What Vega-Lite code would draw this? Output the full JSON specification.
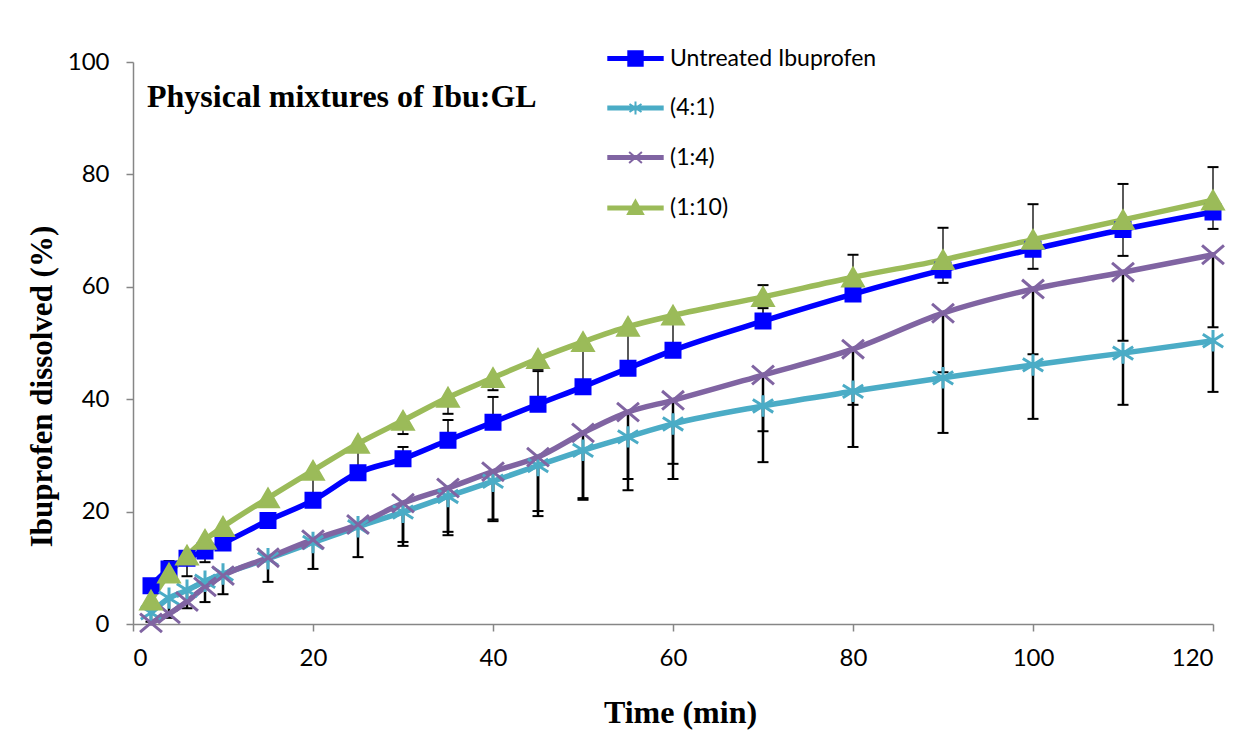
{
  "$schema": "https://vega.github.io/schema/vega-lite/v6.json",
  "width": 1080,
  "height": 562,
  "autosize": {"type": "none"},
  "padding": {"left": 133, "top": 62, "right": 40, "bottom": 121},
  "background": "white",
  "config": {"view": {"stroke": null}, "font": "Lato"},
  "title": {
    "text": "Physical mixtures of Ibu:GL",
    "anchor": "start",
    "frame": "group",
    "font": "Liberation Serif",
    "fontSize": 32,
    "fontWeight": "bold",
    "color": "black",
    "baseline": "alphabetic",
    "offset": 0,
    "dx": 14,
    "dy": 92
  },
  "datasets": {
    "series": [
      {"t": 2, "s": "Untreated Ibuprofen", "v": 6.8},
      {"t": 4, "s": "Untreated Ibuprofen", "v": 9.8},
      {"t": 6, "s": "Untreated Ibuprofen", "v": 11.7},
      {"t": 8, "s": "Untreated Ibuprofen", "v": 13.0},
      {"t": 10, "s": "Untreated Ibuprofen", "v": 14.4},
      {"t": 15, "s": "Untreated Ibuprofen", "v": 18.4},
      {"t": 20, "s": "Untreated Ibuprofen", "v": 22.0},
      {"t": 25, "s": "Untreated Ibuprofen", "v": 26.9},
      {"t": 30, "s": "Untreated Ibuprofen", "v": 29.4},
      {"t": 35, "s": "Untreated Ibuprofen", "v": 32.7},
      {"t": 40, "s": "Untreated Ibuprofen", "v": 35.9},
      {"t": 45, "s": "Untreated Ibuprofen", "v": 39.1},
      {"t": 50, "s": "Untreated Ibuprofen", "v": 42.2},
      {"t": 55, "s": "Untreated Ibuprofen", "v": 45.5},
      {"t": 60, "s": "Untreated Ibuprofen", "v": 48.7},
      {"t": 70, "s": "Untreated Ibuprofen", "v": 53.9},
      {"t": 80, "s": "Untreated Ibuprofen", "v": 58.7},
      {"t": 90, "s": "Untreated Ibuprofen", "v": 63.0},
      {"t": 100, "s": "Untreated Ibuprofen", "v": 66.7},
      {"t": 110, "s": "Untreated Ibuprofen", "v": 70.2},
      {"t": 120, "s": "Untreated Ibuprofen", "v": 73.3},
      {"t": 2, "s": "(4:1)", "v": 2.0},
      {"t": 4, "s": "(4:1)", "v": 4.6},
      {"t": 6, "s": "(4:1)", "v": 6.0},
      {"t": 8, "s": "(4:1)", "v": 7.6},
      {"t": 10, "s": "(4:1)", "v": 8.9},
      {"t": 15, "s": "(4:1)", "v": 11.6},
      {"t": 20, "s": "(4:1)", "v": 14.5},
      {"t": 25, "s": "(4:1)", "v": 17.3},
      {"t": 30, "s": "(4:1)", "v": 19.9},
      {"t": 35, "s": "(4:1)", "v": 22.7},
      {"t": 40, "s": "(4:1)", "v": 25.4},
      {"t": 45, "s": "(4:1)", "v": 28.2},
      {"t": 50, "s": "(4:1)", "v": 30.9},
      {"t": 55, "s": "(4:1)", "v": 33.3},
      {"t": 60, "s": "(4:1)", "v": 35.6},
      {"t": 70, "s": "(4:1)", "v": 38.8},
      {"t": 80, "s": "(4:1)", "v": 41.4},
      {"t": 90, "s": "(4:1)", "v": 43.8},
      {"t": 100, "s": "(4:1)", "v": 46.1},
      {"t": 110, "s": "(4:1)", "v": 48.2},
      {"t": 120, "s": "(4:1)", "v": 50.4},
      {"t": 2, "s": "(1:4)", "v": 0.2},
      {"t": 4, "s": "(1:4)", "v": 1.8},
      {"t": 6, "s": "(1:4)", "v": 4.0},
      {"t": 8, "s": "(1:4)", "v": 6.6},
      {"t": 10, "s": "(1:4)", "v": 8.6},
      {"t": 15, "s": "(1:4)", "v": 11.8},
      {"t": 20, "s": "(1:4)", "v": 15.0},
      {"t": 25, "s": "(1:4)", "v": 17.7},
      {"t": 30, "s": "(1:4)", "v": 21.5},
      {"t": 35, "s": "(1:4)", "v": 24.2},
      {"t": 40, "s": "(1:4)", "v": 27.1},
      {"t": 45, "s": "(1:4)", "v": 29.7},
      {"t": 50, "s": "(1:4)", "v": 34.0},
      {"t": 55, "s": "(1:4)", "v": 37.7},
      {"t": 60, "s": "(1:4)", "v": 39.8},
      {"t": 70, "s": "(1:4)", "v": 44.3},
      {"t": 80, "s": "(1:4)", "v": 48.9},
      {"t": 90, "s": "(1:4)", "v": 55.3},
      {"t": 100, "s": "(1:4)", "v": 59.6},
      {"t": 110, "s": "(1:4)", "v": 62.6},
      {"t": 120, "s": "(1:4)", "v": 65.7},
      {"t": 2, "s": "(1:10)", "v": 4.2},
      {"t": 4, "s": "(1:10)", "v": 9.0},
      {"t": 6, "s": "(1:10)", "v": 12.2},
      {"t": 8, "s": "(1:10)", "v": 15.0},
      {"t": 10, "s": "(1:10)", "v": 17.3},
      {"t": 15, "s": "(1:10)", "v": 22.4},
      {"t": 20, "s": "(1:10)", "v": 27.3},
      {"t": 25, "s": "(1:10)", "v": 32.1},
      {"t": 30, "s": "(1:10)", "v": 36.2},
      {"t": 35, "s": "(1:10)", "v": 40.3},
      {"t": 40, "s": "(1:10)", "v": 43.8},
      {"t": 45, "s": "(1:10)", "v": 47.2},
      {"t": 50, "s": "(1:10)", "v": 50.2},
      {"t": 55, "s": "(1:10)", "v": 52.9},
      {"t": 60, "s": "(1:10)", "v": 54.9},
      {"t": 70, "s": "(1:10)", "v": 58.2},
      {"t": 80, "s": "(1:10)", "v": 61.7},
      {"t": 90, "s": "(1:10)", "v": 64.8},
      {"t": 100, "s": "(1:10)", "v": 68.4},
      {"t": 110, "s": "(1:10)", "v": 71.9},
      {"t": 120, "s": "(1:10)", "v": 75.4}
    ],
    "err": [
      {"t": 2, "s": "(4:1)", "v": 2.0, "e": 0.4},
      {"t": 4, "s": "(4:1)", "v": 4.6, "e": 1.1},
      {"t": 4, "s": "Untreated Ibuprofen", "v": 9.8, "e": 11.2},
      {"t": 6, "s": "(4:1)", "v": 6.0, "e": 2.8},
      {"t": 6, "s": "Untreated Ibuprofen", "v": 11.7, "e": 8.5},
      {"t": 8, "s": "(4:1)", "v": 7.6, "e": 3.9},
      {"t": 8, "s": "Untreated Ibuprofen", "v": 13.0, "e": 11.0},
      {"t": 10, "s": "(4:1)", "v": 8.9, "e": 5.3},
      {"t": 15, "s": "(4:1)", "v": 11.6, "e": 7.5},
      {"t": 20, "s": "(4:1)", "v": 14.5, "e": 9.8},
      {"t": 20, "s": "(1:10)", "v": 27.3, "e": 22.5},
      {"t": 25, "s": "(4:1)", "v": 17.3, "e": 11.9},
      {"t": 25, "s": "(1:10)", "v": 32.1, "e": 27.5},
      {"t": 30, "s": "(4:1)", "v": 19.9, "e": 13.9},
      {"t": 30, "s": "(1:4)", "v": 21.5, "e": 14.6},
      {"t": 30, "s": "(1:10)", "v": 36.2, "e": 33.8},
      {"t": 30, "s": "Untreated Ibuprofen", "v": 29.4, "e": 31.5},
      {"t": 35, "s": "(4:1)", "v": 22.7, "e": 15.8},
      {"t": 35, "s": "(1:4)", "v": 24.2, "e": 16.4},
      {"t": 35, "s": "(1:10)", "v": 40.3, "e": 37.4},
      {"t": 35, "s": "Untreated Ibuprofen", "v": 32.7, "e": 36.3},
      {"t": 40, "s": "(4:1)", "v": 25.4, "e": 18.3},
      {"t": 40, "s": "(1:4)", "v": 27.1, "e": 18.6},
      {"t": 40, "s": "(1:10)", "v": 43.8, "e": 41.6},
      {"t": 40, "s": "Untreated Ibuprofen", "v": 35.9, "e": 40.4},
      {"t": 45, "s": "(4:1)", "v": 28.2, "e": 19.2},
      {"t": 45, "s": "(1:4)", "v": 29.7, "e": 20.1},
      {"t": 45, "s": "(1:10)", "v": 47.2, "e": 45.4},
      {"t": 45, "s": "Untreated Ibuprofen", "v": 39.1, "e": 45.0},
      {"t": 50, "s": "(4:1)", "v": 30.9, "e": 22.1},
      {"t": 50, "s": "(1:4)", "v": 34.0, "e": 22.4},
      {"t": 50, "s": "(1:10)", "v": 50.2, "e": 43.0},
      {"t": 55, "s": "(4:1)", "v": 33.3, "e": 23.8},
      {"t": 55, "s": "(1:4)", "v": 37.7, "e": 25.8},
      {"t": 55, "s": "(1:10)", "v": 52.9, "e": 46.0},
      {"t": 60, "s": "(4:1)", "v": 35.6, "e": 25.8},
      {"t": 60, "s": "(1:4)", "v": 39.8, "e": 28.5},
      {"t": 60, "s": "(1:10)", "v": 54.9, "e": 49.5},
      {"t": 70, "s": "(4:1)", "v": 38.8, "e": 28.8},
      {"t": 70, "s": "(1:4)", "v": 44.3, "e": 34.3},
      {"t": 70, "s": "(1:10)", "v": 58.2, "e": 60.3},
      {"t": 70, "s": "Untreated Ibuprofen", "v": 53.9, "e": 56.2},
      {"t": 80, "s": "(4:1)", "v": 41.4, "e": 31.5},
      {"t": 80, "s": "(1:4)", "v": 48.9, "e": 39.0},
      {"t": 80, "s": "(1:10)", "v": 61.7, "e": 65.7},
      {"t": 90, "s": "(4:1)", "v": 43.8, "e": 34.0},
      {"t": 90, "s": "(1:4)", "v": 55.3, "e": 44.8},
      {"t": 90, "s": "(1:10)", "v": 64.8, "e": 70.5},
      {"t": 90, "s": "(1:10)", "v": 64.8, "e": 60.7},
      {"t": 100, "s": "(4:1)", "v": 46.1, "e": 36.5},
      {"t": 100, "s": "(1:4)", "v": 59.6, "e": 48.0},
      {"t": 100, "s": "(1:10)", "v": 68.4, "e": 74.7},
      {"t": 100, "s": "(1:10)", "v": 68.4, "e": 63.2},
      {"t": 110, "s": "(4:1)", "v": 48.2, "e": 39.0},
      {"t": 110, "s": "(1:4)", "v": 62.6, "e": 50.4},
      {"t": 110, "s": "(1:10)", "v": 71.9, "e": 78.3},
      {"t": 110, "s": "(1:10)", "v": 71.9, "e": 65.5},
      {"t": 120, "s": "(4:1)", "v": 50.4, "e": 41.3},
      {"t": 120, "s": "(1:4)", "v": 65.7, "e": 52.8},
      {"t": 120, "s": "(1:10)", "v": 75.4, "e": 81.3},
      {"t": 120, "s": "(1:10)", "v": 75.4, "e": 70.3}
    ]
  },
  "encoding": {
    "x": {
      "field": "t",
      "type": "quantitative",
      "scale": {"domain": [0, 120], "nice": false},
      "axis": {
        "values": [0, 20, 40, 60, 80, 100, 120],
        "grid": false,
        "domainColor": "#868686",
        "domainWidth": 1.5,
        "tickColor": "#868686",
        "tickWidth": 1.5,
        "tickSize": 7,
        "labelFont": "Lato",
        "labelFontSize": 24,
        "labelColor": "black",
        "labelPadding": 15,
        "title": "Time (min)",
        "titleFont": "Liberation Serif",
        "titleFontWeight": "bold",
        "titleFontSize": 32,
        "titleColor": "black",
        "titleX": 547,
        "titleY": 88,
        "titleBaseline": "middle",
        "titleAlign": "center"
      }
    },
    "y": {
      "field": "v",
      "type": "quantitative",
      "scale": {"domain": [0, 100], "nice": false},
      "axis": {
        "values": [0, 20, 40, 60, 80, 100],
        "grid": false,
        "domainColor": "#868686",
        "domainWidth": 1.5,
        "tickColor": "#868686",
        "tickWidth": 1.5,
        "tickSize": 7,
        "labelFont": "Lato",
        "labelFontSize": 24,
        "labelColor": "black",
        "labelPadding": 17,
        "title": "Ibuprofen dissolved (%)",
        "titleFont": "Liberation Serif",
        "titleFontWeight": "bold",
        "titleFontSize": 31,
        "titleColor": "black",
        "titleX": -91,
        "titleY": 324,
        "titleBaseline": "middle",
        "titleAlign": "center",
        "titleAngle": -90
      }
    }
  },
  "layer": [
    {
      "data": {"name": "err"},
      "mark": {"type": "rule", "color": "black"},
      "encoding": {
        "y2": {"field": "e"},
        "strokeWidth": {
          "field": "s",
          "type": "nominal",
          "scale": {"type": "ordinal", "range": [1.3, 2.5, 2.5, 1.5]},
          "legend": null
        }
      }
    },
    {
      "data": {"name": "err"},
      "mark": {"type": "tick", "orient": "horizontal", "size": 11, "thickness": 2, "color": "black", "opacity": 1},
      "encoding": {
        "y": {"field": "e", "type": "quantitative"}
      }
    },
    {
      "data": {"name": "series"},
      "mark": {"type": "line", "strokeWidth": 5.5, "interpolate": "monotone", "strokeCap": "round"},
      "encoding": {
        "color": {
          "field": "s",
          "type": "nominal",
          "scale": {"domain": ["Untreated Ibuprofen", "(4:1)", "(1:4)", "(1:10)"], "range": ["#0000FF", "#4BACC6", "#8064A2", "#9BBB59"]},
          "legend": {
            "title": null,
            "orient": "none",
            "legendX": 491,
            "legendY": -15,
            "direction": "vertical",
            "padding": 0,
            "rowPadding": 25.5,
            "symbolSize": 256,
            "symbolStrokeWidth": 2,
            "labelFont": "Lato",
            "labelFontSize": 23,
            "labelColor": "black",
            "labelOffset": 23,
            "labelLimit": 400,
            "encode": {
              "symbols": {
                "update": {
                  "shape": {"signal": "datum.value === 'Untreated Ibuprofen' ? 'M-3.4,-0.2L3.4,-0.2L3.4,0.2L-3.4,0.2ZM-0.9,-0.9L0.9,-0.9L0.9,0.9L-0.9,0.9Z' : datum.value === '(4:1)' ? 'M-3.4,-0.2L3.4,-0.2L3.4,0.2L-3.4,0.2ZM-0.75,-0.5L0.75,0.5M-0.75,0.5L0.75,-0.5M0,-0.8L0,0.8' : datum.value === '(1:4)' ? 'M-3.4,-0.2L3.4,-0.2L3.4,0.2L-3.4,0.2ZM-0.8,-0.7L0.8,0.7M-0.8,0.7L0.8,-0.7' : 'M-3.4,-0.2L3.4,-0.2L3.4,0.2L-3.4,0.2ZM0,-0.95L0.95,0.75L-0.95,0.75Z'"},
                  "fill": {"signal": "datum.value === 'Untreated Ibuprofen' ? '#0000FF' : datum.value === '(4:1)' ? '#4BACC6' : datum.value === '(1:4)' ? '#8064A2' : '#9BBB59'"},
                  "stroke": {"signal": "datum.value === 'Untreated Ibuprofen' ? '#0000FF' : datum.value === '(4:1)' ? '#4BACC6' : datum.value === '(1:4)' ? '#8064A2' : '#9BBB59'"},
                  "strokeWidth": {"value": 2},
                  "opacity": {"value": 1},
                  "fillOpacity": {"value": 1},
                  "strokeOpacity": {"value": 1}
                }
              }
            }
          }
        }
      }
    },
    {
      "data": {"name": "series"},
      "mark": {"type": "point", "filled": true, "opacity": 1, "strokeWidth": 3},
      "encoding": {
        "fill": {
          "field": "s",
          "type": "nominal",
          "scale": {"range": ["#9BBB59", "#8064A2", "#4BACC6", "#0000FF"]},
          "legend": null
        },
        "stroke": {
          "field": "s",
          "type": "nominal",
          "scale": {"range": ["#9BBB59", "#8064A2", "#4BACC6", "#0000FF"]},
          "legend": null
        },
        "shape": {
          "field": "s",
          "type": "nominal",
          "scale": {"range": ["triangle-up", "M-1,-0.85L1,0.85M-1,0.85L1,-0.85", "M-0.95,-0.6L0.95,0.6M-0.95,0.6L0.95,-0.6M0,-1L0,1", "square"]},
          "legend": null
        },
        "size": {
          "field": "s",
          "type": "nominal",
          "scale": {"type": "ordinal", "range": [400, 480, 460, 196]},
          "legend": null
        }
      }
    }
  ]
}
